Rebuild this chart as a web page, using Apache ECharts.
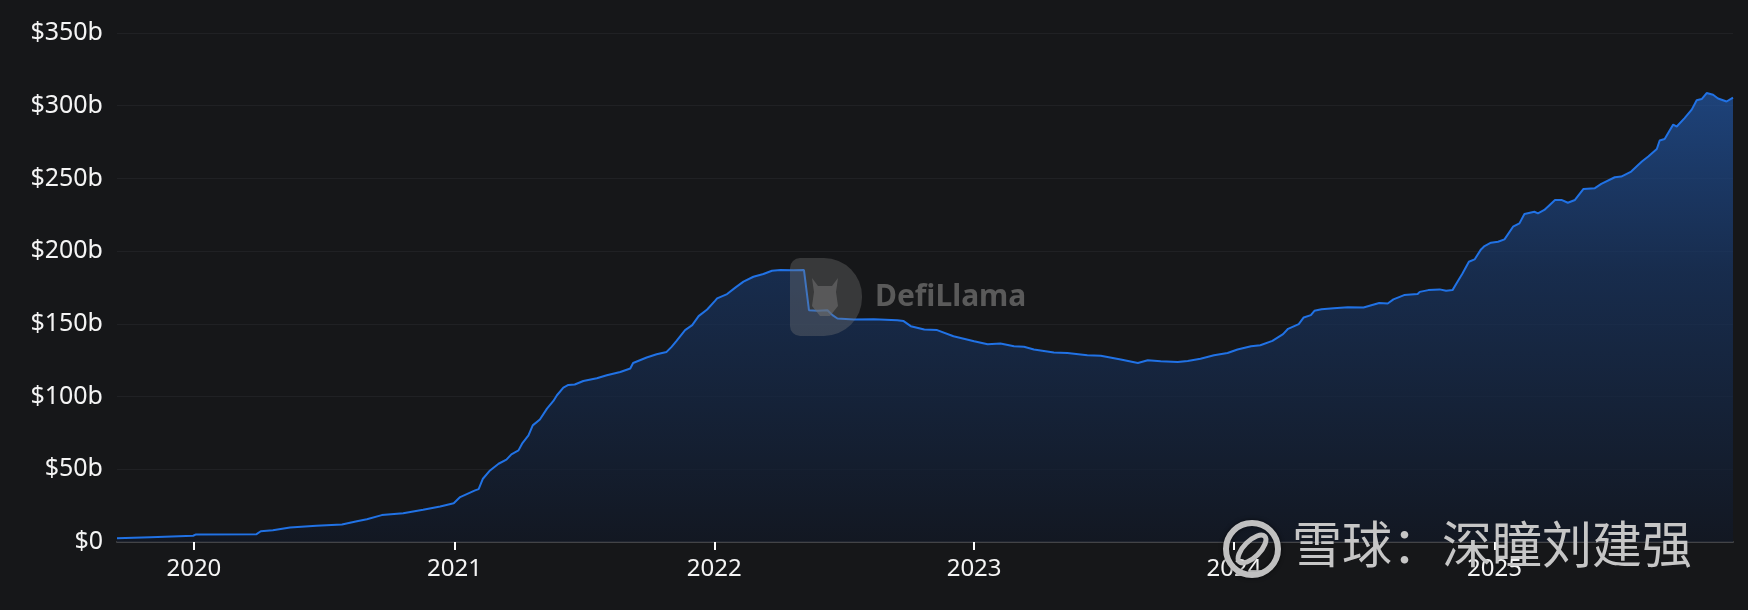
<!DOCTYPE html>
<html>
<head>
<meta charset="utf-8">
<script src="https://cdn.jsdelivr.net/npm/echarts@6/dist/echarts.min.js"></script>
<style>
  html, body { margin: 0; padding: 0; background: #161719; }
  #main { width: 1748px; height: 610px; }
</style>
</head>
<body>
<div id="main"></div>
<script>
// 日期
var dates = [
  '2019-09-15', '2019-11-01', '2019-12-31', '2020-01-04', '2020-03-29', '2020-04-04', '2020-04-21', '2020-05-15',
  '2020-06-21', '2020-07-27', '2020-08-17', '2020-08-31', '2020-09-21', '2020-10-21', '2020-11-18', '2020-12-12',
  '2020-12-31', '2021-01-09', '2021-01-30', '2021-02-04', '2021-02-10', '2021-02-20', '2021-03-04', '2021-03-15',
  '2021-03-22', '2021-04-01', '2021-04-06', '2021-04-15', '2021-04-21', '2021-05-01', '2021-05-11', '2021-05-20',
  '2021-05-25', '2021-06-03', '2021-06-10', '2021-06-19', '2021-07-01', '2021-07-20', '2021-08-03', '2021-08-22',
  '2021-09-05', '2021-09-09', '2021-09-28', '2021-10-12', '2021-10-26', '2021-11-02', '2021-11-09', '2021-11-21',
  '2021-12-01', '2021-12-10', '2021-12-22', '2022-01-02', '2022-01-05', '2022-01-19', '2022-01-31', '2022-02-11',
  '2022-02-25', '2022-03-11', '2022-03-23', '2022-04-04', '2022-04-22', '2022-05-07', '2022-05-09', '2022-05-14',
  '2022-05-26', '2022-06-09', '2022-06-16', '2022-06-23', '2022-07-16', '2022-08-13', '2022-09-15', '2022-09-24',
  '2022-10-04', '2022-10-23', '2022-11-10', '2022-12-03', '2023-01-01', '2023-01-20', '2023-02-07', '2023-02-26',
  '2023-03-12', '2023-03-26', '2023-04-23', '2023-05-12', '2023-06-09', '2023-06-28', '2023-07-26', '2023-08-19',
  '2023-09-02', '2023-09-20', '2023-10-14', '2023-10-28', '2023-11-15', '2023-12-04', '2023-12-23', '2024-01-06',
  '2024-01-25', '2024-02-07', '2024-02-24', '2024-03-10', '2024-03-17', '2024-04-01', '2024-04-08', '2024-04-18',
  '2024-04-23', '2024-05-03', '2024-05-20', '2024-06-09', '2024-07-01', '2024-07-23', '2024-08-04', '2024-08-12',
  '2024-08-27', '2024-09-15', '2024-09-18', '2024-09-30', '2024-10-16', '2024-10-25', '2024-11-03', '2024-11-10',
  '2024-11-17', '2024-11-26', '2024-12-04', '2024-12-13', '2024-12-18', '2024-12-27', '2025-01-06', '2025-01-15',
  '2025-01-27', '2025-02-05', '2025-02-12', '2025-02-26', '2025-03-03', '2025-03-12', '2025-03-27', '2025-04-05',
  '2025-04-14', '2025-04-24', '2025-05-06', '2025-05-22', '2025-05-31', '2025-06-19', '2025-06-28', '2025-07-12',
  '2025-07-27', '2025-08-05', '2025-08-17', '2025-08-21', '2025-08-28', '2025-09-04', '2025-09-09', '2025-09-14',
  '2025-09-25', '2025-10-05', '2025-10-12', '2025-10-19', '2025-10-26', '2025-11-04', '2025-11-11', '2025-11-23',
  '2025-12-02'
]
// TVL，单位：十亿美元
var tvl = [
  2.5, 3.3, 4.3, 5.2, 5.4, 7.4, 8.1, 10,
  11.1, 12, 14.3, 15.7, 18.5, 19.8, 22.2, 24.4,
  26.7, 30.9, 35.5, 36.4, 43.5, 49.2, 53.8, 56.6,
  60.3, 63, 67.6, 73.3, 80.2, 84.2, 91.7, 97,
  100.9, 106.2, 108, 108.3, 110.7, 112.6, 114.7, 116.9,
  119.3, 123.1, 126.9, 129.1, 130.7, 134.2, 138.3, 145.7,
  149.1, 155.3, 159.9, 165.8, 167.5, 170.5, 175.1, 179,
  182.4, 184.3, 186.5, 187, 186.8, 187, 185.8, 159.4,
  159, 159.4, 156, 153.7, 153, 153.2, 152.5, 151.9,
  148.4, 146.1, 145.7, 141.5, 138.1, 136, 136.5, 134.6,
  134.2, 132.4, 130.3, 130, 128.4, 128, 125.5, 123.1,
  125, 124.3, 123.8, 124.5, 126, 128.4, 130, 132.4,
  134.6, 135.3, 138.3, 142.9, 146.6, 149.8, 154.4, 156,
  159, 160.1, 160.8, 161.5, 161.3, 164.3, 164, 166.8,
  169.8, 170.5, 172, 173.2, 173.7, 172.7, 173.2, 179,
  184.7, 192.7, 194.3, 201.2, 203.5, 205.8, 206.5, 208.1,
  216.8, 219.1, 225.5, 227.1, 226, 228.3, 235.2, 235.2,
  233.3, 235.2, 242.8, 243.3, 246.2, 250.8, 251.3, 254.7,
  261.6, 265.1, 270.2, 276.1, 277.1, 283, 287, 285.7,
  291.5, 297.3, 303.7, 304.6, 308.7, 307.5, 305, 302.9,
  305.6
]
var yTicks = [0, 50, 100, 150, 200, 250, 300, 350]

var ONE_YEAR = 365 * 24 * 3600 * 1000
var seriesData = dates.map(function(d, i) { return [d, tvl[i]] })

var myChart = echarts.init(document.getElementById('main'))
var option = {
  backgroundColor: '#161719',
  animation: false,
  grid: { left: 117, right: 15, top: 33, bottom: 68 },
  xAxis: {
    type: 'time',
    min: dates[0],
    max: dates[dates.length - 1],
    splitNumber: 6,
    minInterval: ONE_YEAR,
    maxInterval: ONE_YEAR + 2 * 24 * 3600 * 1000,
    axisLine: { lineStyle: { color: '#434447', width: 2 } },
    axisTick: { show: true, length: 8, lineStyle: { color: '#ffffff', width: 2 } },
    axisLabel: {
      color: '#f4f4f4',
      fontSize: 24,
      fontFamily: 'Noto Sans',
      margin: 15,
      showMinLabel: false,
      showMaxLabel: false,
      formatter: function(v) { return String(new Date(v).getFullYear()) }
    },
    splitLine: { show: false }
  },
  yAxis: {
    type: 'value',
    min: yTicks[0],
    max: yTicks[yTicks.length - 1],
    interval: 50,
    axisLine: { show: false },
    axisTick: { show: false },
    axisLabel: {
      color: '#f4f4f4',
      fontSize: 25,
      fontFamily: 'Noto Sans',
      margin: 14,
      formatter: function(v) { return v === 0 ? '$0' : '$' + v + 'b' }
    },
    splitLine: { lineStyle: { color: '#202124', width: 1 } }
  },
  series: [
    {
      type: 'line',
      data: seriesData,
      symbol: 'none',
      lineStyle: { color: '#2172E5', width: 2 },
      areaStyle: {
        color: new echarts.graphic.LinearGradient(0, 0, 0, 1, [
          { offset: 0, color: '#2155a3' },
          { offset: 0.4, color: '#183563' },
          { offset: 1, color: '#111826' }
        ])
      }
    }
  ],
  graphic: [
    // DefiLlama 水印
    {
      type: 'rect',
      z: 100,
      shape: { x: 790, y: 258, width: 72, height: 78, r: [10, 38, 38, 10] },
      style: { fill: 'rgba(120,120,120,0.35)' }
    },
    {
      type: 'polygon',
      z: 101,
      shape: { points: [[812, 278], [818, 286], [832, 286], [838, 278], [836, 292], [838, 306], [830, 316], [820, 316], [812, 306], [814, 292]] },
      style: { fill: 'rgba(110,110,110,0.6)' }
    },
    {
      type: 'text',
      z: 100,
      left: 875,
      top: 282,
      style: { text: 'DefiLlama', fill: '#5a5a5a', font: 'bold 30px "Noto Sans"' }
    },
    // 雪球 水印
    {
      type: 'circle',
      z: 100,
      shape: { cx: 1252, cy: 549, r: 26 },
      style: { fill: 'none', stroke: '#c0c0c0', lineWidth: 6, shadowColor: 'rgba(0,0,0,0.6)', shadowBlur: 4 }
    },
    {
      type: 'ellipse',
      z: 100,
      x: 1252, y: 549, rotation: Math.PI / 4,
      shape: { cx: 0, cy: 0, rx: 18, ry: 8 },
      style: { fill: 'none', stroke: '#c0c0c0', lineWidth: 5 }
    },
    {
      type: 'text',
      z: 100,
      left: 1292,
      top: 519,
      style: {
        text: '雪球：深瞳刘建强',
        fill: '#c6c6c6',
        font: '50px "Noto Sans CJK SC"',
        shadowColor: 'rgba(0,0,0,0.7)',
        shadowBlur: 4,
        shadowOffsetX: 2,
        shadowOffsetY: 2
      }
    }
  ]
}
myChart.setOption(option)
</script>
</body>
</html>
